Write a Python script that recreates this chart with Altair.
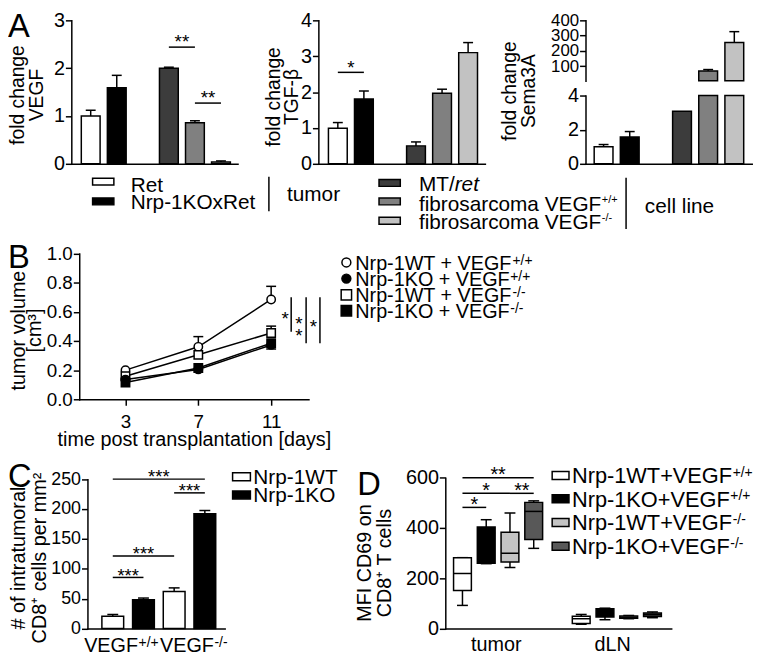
import altair as alt
import pandas as pd

W, H = 754, 649
FONT = "Liberation Sans"


def V(p):
    return p - 8


# ---------------- Panel A data ----------------
a_cats = ["Ret", "Nrp-1KOxRet", "MT/ret", "fibrosarcoma VEGF+/+", "fibrosarcoma VEGF-/-"]
a_slots = ["Ret", "Nrp-1KOxRet", "(gap)", "MT/ret", "fibrosarcoma VEGF+/+", "fibrosarcoma VEGF-/-"]
a_colors = ["#ffffff", "#000000", "#3c3c3c", "#808080", "#c2c2c2"]
vegf_mean = [1.00, 1.59, 2.00, 0.86, 0.04]
vegf_err = [1.12, 1.85, 2.02, 0.90, 0.06]
tgfb_mean = [0.99, 1.81, 0.50, 1.97, 3.10]
tgfb_err = [1.15, 2.03, 0.61, 2.08, 3.38]
sema_mean = [1.00, 1.57, 3.08, 69.0, 255.0]
sema_err = [1.13, 1.89, 3.08, 78.0, 326.0]
vegf_sig = [("MT/ret", "fibrosarcoma VEGF+/+", 2.44, "**"),
            ("fibrosarcoma VEGF+/+", "fibrosarcoma VEGF-/-", 1.27, "**")]
tgfb_sig = [("Ret", "Nrp-1KOxRet", 2.55, "*")]

# ---------------- Panel B data ----------------
b_days = [3, 7, 11]
b_series = ["Nrp-1WT + VEGF+/+", "Nrp-1WT + VEGF-/-", "Nrp-1KO + VEGF+/+", "Nrp-1KO + VEGF-/-"]
b_shapes = ["circle", "square", "circle", "square"]
b_fills = ["#ffffff", "#ffffff", "#000000", "#000000"]
b_wt_pp = [0.200, 0.360, 0.685]
b_wt_mm = [0.158, 0.305, 0.455]
b_ko_pp = [0.135, 0.205, 0.373]
b_ko_mm = [0.115, 0.215, 0.385]
b_wt_pp_err = [None, 0.430, 0.775]
b_wt_mm_err = [None, None, 0.502]
b_ko_pp_err = [None, None, None]
b_ko_mm_err = [None, None, 0.345]
b_sig_x = [12.10, 12.92, 13.68]
b_sig_top = [0.70, 0.70, 0.70]
b_sig_bottom = [0.464, 0.385, 0.385]
b_star_x = [11.77, 13.32]
b_star_y = [0.585, 0.53]
b_star2_x = [12.52]
b_star2_y = [0.55]

# ---------------- Panel C data ----------------
c_cats = ["Nrp-1WT VEGF+/+", "Nrp-1KO VEGF+/+", "Nrp-1WT VEGF-/-", "Nrp-1KO VEGF-/-"]
c_geno = ["Nrp-1WT", "Nrp-1KO", "Nrp-1WT", "Nrp-1KO"]
c_mean = [20.5, 48.0, 62.0, 192.0]
c_err = [23.5, 51.0, 68.0, 197.5]
c_sig = [(c_cats[0], c_cats[1], 85.5, "***"), (c_cats[0], c_cats[2], 121.4, "***"),
         (c_cats[2], c_cats[3], 227.0, "***"), (c_cats[0], c_cats[3], 250.0, "***")]

# ---------------- Panel D data ----------------
d_groups = ["tumor", "dLN"]
d_conds = ["Nrp-1WT+VEGF+/+", "Nrp-1KO+VEGF+/+", "Nrp-1WT+VEGF-/-", "Nrp-1KO+VEGF-/-"]
d_colors = ["#ffffff", "#000000", "#c4c4c4", "#585858"]
d_min = [92, 258, 243, 319, 17, 35, 39, 43]
d_q1 = [151, 260, 265, 354, 20, 46, 41, 48]
d_med = [219, 380, 300, 466, 39, 60, 45, 55]
d_q3 = [282, 404, 383, 502, 49, 79, 50, 62]
d_max = [282, 433, 460, 508, 56, 81, 52, 66]
d_sig = [("tumor|" + d_conds[0], "tumor|" + d_conds[1], 482, "*"),
         ("tumor|" + d_conds[0], "tumor|" + d_conds[2], 538, "*"),
         ("tumor|" + d_conds[2], "tumor|" + d_conds[3], 538, "**"),
         ("tumor|" + d_conds[0], "tumor|" + d_conds[3], 600, "**")]

# ---------------- helpers ----------------
AW = {' ': 278, '#': 556, '+': 584, '-': 333, '/': 278, '.': 278, '[': 278, ']': 278,
      'A': 667, 'C': 722, 'D': 722, 'E': 667, 'F': 611, 'G': 778, 'I': 278, 'K': 667,
      'L': 556, 'M': 833, 'N': 722, 'O': 778, 'R': 722, 'T': 611, 'V': 667, 'W': 944,
      'a': 556, 'b': 556, 'c': 500, 'd': 556, 'e': 556, 'f': 278, 'i': 222, 'l': 222,
      'm': 833, 'n': 556, 'o': 556, 'p': 556, 'r': 333, 's': 500, 't': 278, 'x': 500, 'u': 556}


def tw(s, fs):
    return sum(AW.get(c, 556) for c in s) * fs / 1000.0


ONE = pd.DataFrame({"k": [0]})


def label(txt, x, y, fs, align="left", baseline="alphabetic", angle=0, italic=False):
    kw = dict(text=txt, font=FONT, fontSize=fs, align=align, baseline=baseline, color="black")
    if angle:
        kw["angle"] = angle
    if italic:
        kw["fontStyle"] = "italic"
    return alt.Chart(ONE).mark_text(**kw).encode(x=alt.value(V(x)), y=alt.value(V(y)))


def sup_text(base, sup, x, yc, fs, sfs):
    yb = yc + 0.358 * fs
    out = [label(base, x, yb, fs)]
    if sup:
        out.append(label(sup, x + tw(base, fs) + 0.5, yb - 0.716 * fs + 0.66 * sfs, sfs))
    return out


def swatch(x0, x1, yc, h, color):
    return alt.Chart(ONE).mark_rect(fill=color, stroke="black", strokeWidth=1.5).encode(
        x=alt.value(V(x0)), x2=alt.value(V(x1)), y=alt.value(V(yc - h / 2)), y2=alt.value(V(yc + h / 2)))


def vline(x, y0, y1):
    return alt.Chart(ONE).mark_rule(color="black", strokeWidth=1.5).encode(
        x=alt.value(V(x)), y=alt.value(V(y0)), y2=alt.value(V(y1)))


def lin(domain, page_range, clamp=False):
    kw = dict(domain=domain, range=[V(page_range[0]), V(page_range[1])], nice=False, zero=False)
    if clamp:
        kw["clamp"] = True
    return alt.Scale(**kw)


def y_axis(axis_x, values, fs, title=None, xf=0.0, yc=0.0, tfs=20, lh=20, fmt="", tick=6, lpad=1):
    # xf: page x of the first title line's baseline; further lines go right by lh
    kw = dict(orient="left", offset=-V(axis_x), values=values, labelFontSize=fs,
              tickSize=tick, labelPadding=lpad)
    if fmt:
        kw["format"] = fmt
    if title:
        kw.update(title=title, titleFontSize=tfs, titleLineHeight=lh,
                  titleX=xf + 0.21 * tfs - axis_x, titleY=V(yc), titleAngle=270,
                  titleAlign="center", titleBaseline="bottom")
    else:
        kw["title"] = None
    return alt.Axis(**kw)


def x_base(y_page, **extra):
    kw = dict(orient="bottom", offset=V(y_page) - H, labels=False, ticks=False, title=None)
    kw.update(extra)
    return alt.Axis(**kw)


def sig_frame(sig, names):
    return pd.DataFrame({"x0": [names.index(s[0]) for s in sig],
                         "x1": [names.index(s[1]) for s in sig],
                         "y": [s[2] for s in sig],
                         "label": [s[3] for s in sig]})


def sig_layers(sig_df, X, Y, fs, gap):
    s = alt.Chart(sig_df).transform_calculate(mid="(datum.x0 + datum.x1) / 2")
    return [s.mark_rule(color="black", strokeWidth=1.5).encode(x=X("x0"), x2=alt.X2("x1"), y=Y("y")),
            s.mark_text(font=FONT, fontSize=fs, baseline="middle", dy=0.275 * fs - gap,
                        color="black").encode(x=X("mid"), y=Y("y"), text="label:N")]


def bar_group(df, xs, ys, xax, yax, bar_w, cap_w, fill_field, fill_scale, sig=None,
              star_fs=19, star_gap=10, base=0, bar_filter="", err_filter="datum.err > datum.mean"):
    def X(f):
        return alt.X(f, type="quantitative", scale=xs, axis=xax)

    def Y(f):
        return alt.Y(f, type="quantitative", scale=ys, axis=yax)

    b = alt.Chart(df)
    if bar_filter:
        b = b.transform_filter(bar_filter)
    bars = b.mark_bar(width=bar_w, stroke="black", strokeWidth=1.5, orient="vertical").encode(
        x=X("slot"), y=Y("mean"), y2=alt.datum(base),
        fill=alt.Fill(fill_field + ":N", scale=fill_scale, legend=None))
    e = alt.Chart(df).transform_filter(err_filter)
    stem = e.mark_rule(color="black", strokeWidth=1.5).encode(x=X("slot"), y=Y("mean"), y2=alt.Y2("err"))
    cap = e.mark_tick(orient="horizontal", size=cap_w, thickness=1.5, color="black", opacity=1).encode(
        x=X("slot"), y=Y("err"))
    layers = [bars, stem, cap]
    if sig is not None:
        layers += sig_layers(sig, X, Y, star_fs, star_gap)
    return alt.layer(*layers)


def a_frame(means, errs):
    return pd.DataFrame({"cat": a_cats, "slot": [a_slots.index(c) for c in a_cats],
                         "mean": means, "err": errs})


layers = []
fillA = alt.Scale(domain=a_cats, range=a_colors)

# ---------------- Panel A ----------------
layers.append(bar_group(
    a_frame(vegf_mean, vegf_err), lin([-0.554, 5.446], [72, 240]), lin([0, 3], [162, 17]),
    x_base(162), y_axis(72, [0, 1, 2, 3], 20, ["fold change", "VEGF"], 24, 92, 19.5, 19),
    19, 10, "cat", fillA, sig_frame(vegf_sig, a_slots), 19, 10))

layers.append(bar_group(
    a_frame(tgfb_mean, tgfb_err), lin([-0.557, 5.454], [321.7, 490]), lin([0, 4], [162, 17]),
    x_base(162), y_axis(321.7, [0, 1, 2, 3, 4], 20, ["fold change", "TGF-β"], 282, 94, 19.5, 19),
    19, 10, "cat", fillA, sig_frame(tgfb_sig, a_slots), 19, 10))

dfA3 = a_frame(sema_mean, sema_err)
xsA3 = [-0.502, 5.477]
layers.append(bar_group(
    dfA3, lin(xsA3, [591.7, 759.7]), lin([0, 4], [162, 93], clamp=True),
    x_base(162), y_axis(591.7, [0, 2, 4], 20, ["fold change", "Sema3A"], 521, 88, 19.5, 19),
    19, 10, "cat", fillA, err_filter="datum.err < 4 && datum.err > datum.mean"))
layers.append(bar_group(
    dfA3, lin(xsA3, [591.7, 759.7]), lin([5, 400], [78, 17]),
    None, y_axis(591.7, [100, 200, 300, 400], 17),
    19, 10, "cat", fillA, base=5, bar_filter="datum.mean > 5", err_filter="datum.mean > 5"))

# legend A
for x0, yc, col in [(93.5, 180, a_colors[0]), (93.5, 200, a_colors[1]),
                    (383, 181.3, a_colors[2]), (383, 200, a_colors[3]), (383, 219.5, a_colors[4])]:
    layers.append(swatch(x0, x0 + 21.5, yc, 7, col))
layers += sup_text("Ret", "", 132, 182.5, 21, 11)
layers += sup_text("Nrp-1KOxRet", "", 132, 200.5, 21, 11)
layers += sup_text("MT/", "", 423.3, 182, 21, 11)
layers.append(label("ret", 423.3 + tw("MT/", 21), 182 + 0.358 * 21, 21, italic=True))
layers += sup_text("fibrosarcoma VEGF", "+/+", 423.3, 202, 21, 11)
layers += sup_text("fibrosarcoma VEGF", "-/-", 423.3, 220.5, 21, 11)
layers.append(vline(271.7, 175, 210))
layers.append(vline(632.7, 176, 228))
layers += sup_text("tumor", "", 290, 192.5, 21, 11)
layers += sup_text("cell line", "", 651.7, 204, 21, 11)

# ---------------- Panel B ----------------
rows = []
for name, vals, errs in zip(b_series, [b_wt_pp, b_wt_mm, b_ko_pp, b_ko_mm],
                            [b_wt_pp_err, b_wt_mm_err, b_ko_pp_err, b_ko_mm_err]):
    for d, v, e in zip(b_days, vals, errs):
        rows.append({"series": name, "day": d, "vol": v, "err": e})
dfB = pd.DataFrame(rows)
xsB = lin([0.46, 13.05], [80, 311.7])
ysB = lin([0, 1], [400, 252.7])
xaxB = alt.Axis(orient="bottom", offset=V(400) - H, values=b_days, labelFontSize=19, tickSize=6,
                labelPadding=8, title="time post transplantation [days]", titleFontSize=20,
                titleY=31, titleBaseline="top")
yaxB = y_axis(80, [0, 0.2, 0.4, 0.6, 0.8, 1.0], 19, ["tumor volume", "[cm³]"], 24, 330, 20, 16.5, fmt=".1f")


def XB(f):
    return alt.X(f, type="quantitative", scale=xsB, axis=xaxB)


def YB(f):
    return alt.Y(f, type="quantitative", scale=ysB, axis=yaxB)


bl = [alt.Chart(dfB).mark_line(color="black", strokeWidth=1.5).encode(x=XB("day"), y=YB("vol"), detail="series:N")]
eB = alt.Chart(dfB).transform_filter("isValid(datum.err)")
bl.append(eB.mark_rule(color="black", strokeWidth=1.5).encode(x=XB("day"), y=YB("vol"), y2=alt.Y2("err")))
bl.append(eB.mark_tick(orient="horizontal", size=10, thickness=1.5, color="black", opacity=1).encode(
    x=XB("day"), y=YB("err")))
bl.append(alt.Chart(dfB).mark_point(filled=True, stroke="black", strokeWidth=1.5, size=72, opacity=1).encode(
    x=XB("day"), y=YB("vol"),
    shape=alt.Shape("series:N", scale=alt.Scale(domain=b_series, range=b_shapes), legend=None),
    fill=alt.Fill("series:N", scale=alt.Scale(domain=b_series, range=b_fills), legend=None)))
dfBs = pd.DataFrame({"x": b_sig_x, "y0": b_sig_top, "y1": b_sig_bottom})
bl.append(alt.Chart(dfBs).mark_rule(color="black", strokeWidth=1.5).encode(x=XB("x"), y=YB("y0"), y2=alt.Y2("y1")))
bl.append(alt.Chart(pd.DataFrame({"x": b_star_x, "y": b_star_y})).mark_text(
    text="*", font=FONT, fontSize=19, baseline="middle", dy=0.275 * 19, color="black").encode(
    x=XB("x"), y=YB("y")))
bl.append(alt.Chart(pd.DataFrame({"x": b_star2_x, "y": b_star2_y})).mark_text(
    text=["*", "*"], lineHeight=12, font=FONT, fontSize=19, baseline="middle", dy=0.275 * 19,
    color="black").encode(x=XB("x"), y=YB("y")))
layers.append(alt.layer(*bl))

# legend B
legB = [("circle", "#ffffff", 81, "Nrp-1WT + VEGF", "+/+", 261.7),
        ("circle", "#000000", 81, "Nrp-1KO + VEGF", "+/+", 278),
        ("square", "#ffffff", 110, "Nrp-1WT + VEGF", "-/-", 294.5),
        ("square", "#000000", 110, "Nrp-1KO + VEGF", "-/-", 310.5)]
for shp, col, sz, base, sup, yc in legB:
    layers.append(alt.Chart(ONE).mark_point(shape=shp, filled=True, fill=col, stroke="black", strokeWidth=1.5,
                                            size=sz, opacity=1).encode(x=alt.value(V(350)), y=alt.value(V(yc))))
    layers += sup_text(base, sup, 359, yc, 20, 14)

# ---------------- Panel C ----------------
dfC = pd.DataFrame({"cat": c_cats, "geno": c_geno, "slot": list(range(len(c_cats))),
                    "mean": c_mean, "err": c_err})
layers.append(bar_group(
    dfC, lin([-0.664, 3.485], [88.3, 227]), lin([0, 250], [631.7, 480.7]),
    x_base(631.7), y_axis(88.3, [0, 50, 100, 150, 200, 250], 18,
                          ["# of intratumoral", "CD8⁺ cells per mm²"], 24.5, 560, 20, 21.5),
    22, 11, "geno", alt.Scale(domain=["Nrp-1WT", "Nrp-1KO"], range=["#ffffff", "#000000"]),
    sig_frame(c_sig, c_cats), 18.6, 7))
layers += sup_text("VEGF", "+/+", 85, 648, 20, 14)
layers += sup_text("VEGF", "-/-", 161.7, 648, 20, 14)
layers.append(swatch(235, 253, 478.3, 8, "#ffffff"))
layers.append(swatch(235, 253, 496.7, 8, "#000000"))
layers += sup_text("Nrp-1WT", "", 256, 478.3, 21, 14)
layers += sup_text("Nrp-1KO", "", 256, 496.7, 21, 14)

# ---------------- Panel D ----------------
d_slots = ["tumor|" + c for c in d_conds] + ["(gap)"] + ["dLN|" + c for c in d_conds]
dkeys = [g + "|" + c for g in d_groups for c in d_conds]
dfD = pd.DataFrame({"key": dkeys, "cond": [k.split("|")[1] for k in dkeys],
                    "slot": [d_slots.index(k) for k in dkeys],
                    "lo": d_min, "q1": d_q1, "med": d_med, "q3": d_q3, "hi": d_max})
xsD = lin([-0.514, 8.58], [450, 678.3])
ysD = lin([0, 600], [631.7, 479.3])
xaxD = alt.Axis(orient="bottom", offset=V(631.7) - H, values=[1.4, 6.3],
                labelExpr="datum.value < 4 ? 'tumor' : 'dLN'", ticks=False, tickSize=0,
                labelFontSize=20, labelPadding=6.5, title=None)
yaxD = y_axis(450, [0, 200, 400, 600], 20, ["MFI CD69 on", "CD8⁺ T cells"], 374.6, 565, 20, 20)


def XD(f):
    return alt.X(f, type="quantitative", scale=xsD, axis=xaxD)


def YD(f):
    return alt.Y(f, type="quantitative", scale=ysD, axis=yaxD)


cD = alt.Chart(dfD)
dl = [cD.mark_rule(color="black", strokeWidth=1.5).encode(x=XD("slot"), y=YD("lo"), y2=alt.Y2("hi")),
      cD.mark_tick(orient="horizontal", size=11, thickness=1.5, color="black", opacity=1).encode(x=XD("slot"), y=YD("lo")),
      cD.mark_tick(orient="horizontal", size=11, thickness=1.5, color="black", opacity=1).encode(x=XD("slot"), y=YD("hi")),
      cD.mark_bar(width=18, stroke="black", strokeWidth=1.5, orient="vertical").encode(
          x=XD("slot"), y=YD("q1"), y2=alt.Y2("q3"),
          fill=alt.Fill("cond:N", scale=alt.Scale(domain=d_conds, range=d_colors), legend=None)),
      cD.mark_tick(orient="horizontal", size=18, thickness=1.5, color="black", opacity=1).encode(x=XD("slot"), y=YD("med"))]
dl += sig_layers(sig_frame(d_sig, d_slots), XD, YD, 20, 8)
layers.append(alt.layer(*dl))

for (c, col, yc) in zip(d_conds, d_colors, [477, 500.5, 524.5, 548.5]):
    layers.append(swatch(558, 575, yc, 8, col))
    layers += sup_text("Nrp-1" + c.split("+VEGF")[0][5:] + "+VEGF", c[-3:], 578, yc, 22, 14)

# ---------------- panel letters ----------------
for txt, x, top in [("A", 8, 10.4), ("B", 8, 244), ("C", 8, 465), ("D", 361, 473)]:
    layers.append(label(txt, x, top - 0.074 * 33, 33, baseline="top"))

chart = alt.layer(*layers).resolve_scale(
    x="independent", y="independent", fill="independent", shape="independent"
).properties(
    width=W, height=H, autosize=alt.AutoSizeParams(type="none"), padding=0
).configure_view(strokeWidth=0).configure_axis(
    labelFont=FONT, titleFont=FONT, labelColor="black", titleColor="black",
    domainColor="black", tickColor="black", domainWidth=1.5, tickWidth=1.5,
    grid=False, labelFlush=False, labelOverlap=False, labelBound=False,
    titleFontWeight="normal", domainCap="square"
)

chart.save("out.html", embed_options={"renderer": "svg", "actions": False})
